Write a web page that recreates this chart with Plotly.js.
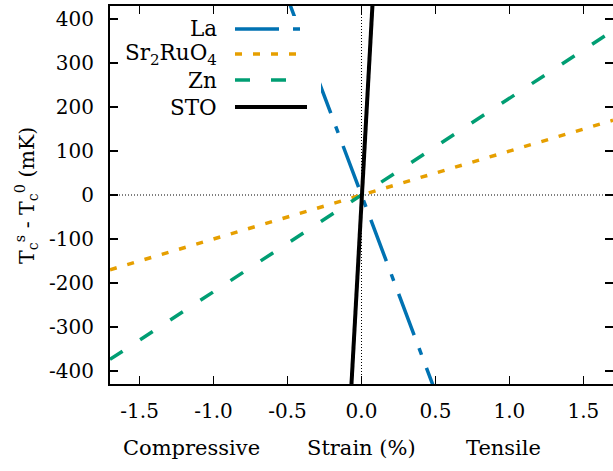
<!DOCTYPE html>
<html>
<head>
<meta charset="utf-8">
<script src="https://cdn.plot.ly/plotly-3.0.1.min.js"></script>
<style>html,body{margin:0;padding:0;background:#fff;}#chart{width:613px;height:471px;}</style>
</head>
<body>
<div id="chart"></div>
<script>
// ---- data ----
const seriesNames = ['La', 'Sr<sub>2</sub>RuO<sub>4</sub>', 'Zn', 'STO'];
const laX = [-0.5, 0.5];
const laY = [448, -448];
const srX = [-1.7, 1.7];
const srY = [-170, 170];
const znX = [-1.7, 1.7];
const znY = [-374, 374];
const stoX = [-0.071, 0.077];
const stoY = [-450, 450];
const xTickVals = [-1.5, -1.0, -0.5, 0.0, 0.5, 1.0, 1.5];
const xTickText = ['-1.5', '-1.0', '-0.5', '0.0', '0.5', '1.0', '1.5'];
const yTickVals = [-400, -300, -200, -100, 0, 100, 200, 300, 400];
const yTickText = ['-400', '-300', '-200', '-100', '0', '100', '200', '300', '400'];
const xSideLabels = ['Compressive', 'Strain (%)', 'Tensile'];
const xSideLabelPos = [-1.15, 0.0, 0.96];
const yTitle = 'T<sub>c</sub><sup>s</sup> - T<sub>c</sub><sup>0</sup> (mK)';

// ---- styles ----
const colors = ['#0072b2', '#e69f00', '#009e73', '#000000'];
const dashes = ['44px,14px,7px,14px', '7px,11px', '15px,21px', 'solid'];
const widths = [3.5, 3.5, 3.5, 4];
const FONT = 'DejaVu Serif';

const xs = [laX, srX, znX, stoX];
const ys = [laY, srY, znY, stoY];
const traces = xs.map((x, i) => ({
  x: x, y: ys[i], type: 'scatter', mode: 'lines', name: seriesNames[i],
  line: {color: colors[i], width: widths[i], dash: dashes[i]},
  showlegend: false, hoverinfo: 'skip'
}));

// plot area in pixels: left 110, right 613, top 6, bottom 384
const L = 110, R = 613, T = 6, B = 384;
const px = v => (v - L) / (R - L);
const py = v => (B - v) / (B - T);

const shapes = [
  {type: 'line', xref: 'x', yref: 'paper', x0: 0, x1: 0, y0: 0, y1: 1,
   line: {color: '#000', width: 1, dash: '1px,2px'}, layer: 'below'},
  {type: 'line', xref: 'paper', yref: 'y', x0: 0, x1: 1, y0: 0, y1: 0,
   line: {color: '#000', width: 1, dash: '1px,2px'}, layer: 'below'},
  // legend background
  {type: 'rect', xref: 'paper', yref: 'paper', x0: px(121), x1: px(321), y0: py(120), y1: py(16),
   fillcolor: '#fff', line: {width: 0}, layer: 'above'}
];
const rowY = [29, 54, 80, 107];
const annotations = [];
seriesNames.forEach((n, i) => {
  shapes.push({type: 'line', xref: 'paper', yref: 'paper', x0: px(235), x1: px(307),
    y0: py(rowY[i]), y1: py(rowY[i]),
    line: {color: colors[i], width: widths[i], dash: dashes[i]}, layer: 'above'});
  annotations.push({xref: 'paper', yref: 'paper', x: px(219), y: py(rowY[i]),
    xanchor: 'right', yanchor: 'middle', showarrow: false, text: n,
    font: {family: FONT, size: 21.5, color: '#000'}});
});
xSideLabels.forEach((t, i) => {
  annotations.push({xref: 'x', yref: 'paper', x: xSideLabelPos[i], y: py(448),
    xanchor: 'center', yanchor: 'middle', showarrow: false, text: t,
    font: {family: FONT, size: 21, color: '#000'}});
});
annotations.push({xref: 'paper', yref: 'paper', x: px(26), y: py(196),
  xanchor: 'center', yanchor: 'middle', showarrow: false, textangle: -90, text: yTitle,
  font: {family: FONT, size: 20.5, color: '#000'}});

const axisCommon = {
  showgrid: false, zeroline: false, showline: true, linecolor: '#000', linewidth: 2,
  mirror: 'ticks', ticks: 'inside', ticklen: 8, tickwidth: 1.5, tickcolor: '#000',
  tickfont: {family: FONT, size: 20, color: '#000'}, tickmode: 'array', fixedrange: true
};

const layout = {
  width: 613, height: 471,
  font: {family: FONT, color: '#000'},
  margin: {l: L, r: 613 - R, t: T, b: 471 - B, pad: 0},
  paper_bgcolor: '#fff', plot_bgcolor: '#fff',
  showlegend: false,
  xaxis: Object.assign({}, axisCommon, {range: [-1.7, 1.7], tickvals: xTickVals, ticktext: xTickText, ticklabelstandoff: 8}),
  yaxis: Object.assign({}, axisCommon, {range: [-430, 430], tickvals: yTickVals, ticktext: yTickText, ticklabelstandoff: 10}),
  shapes: shapes,
  annotations: annotations
};

Plotly.newPlot('chart', traces, layout, {staticPlot: true, displayModeBar: false});
</script>
</body>
</html>
